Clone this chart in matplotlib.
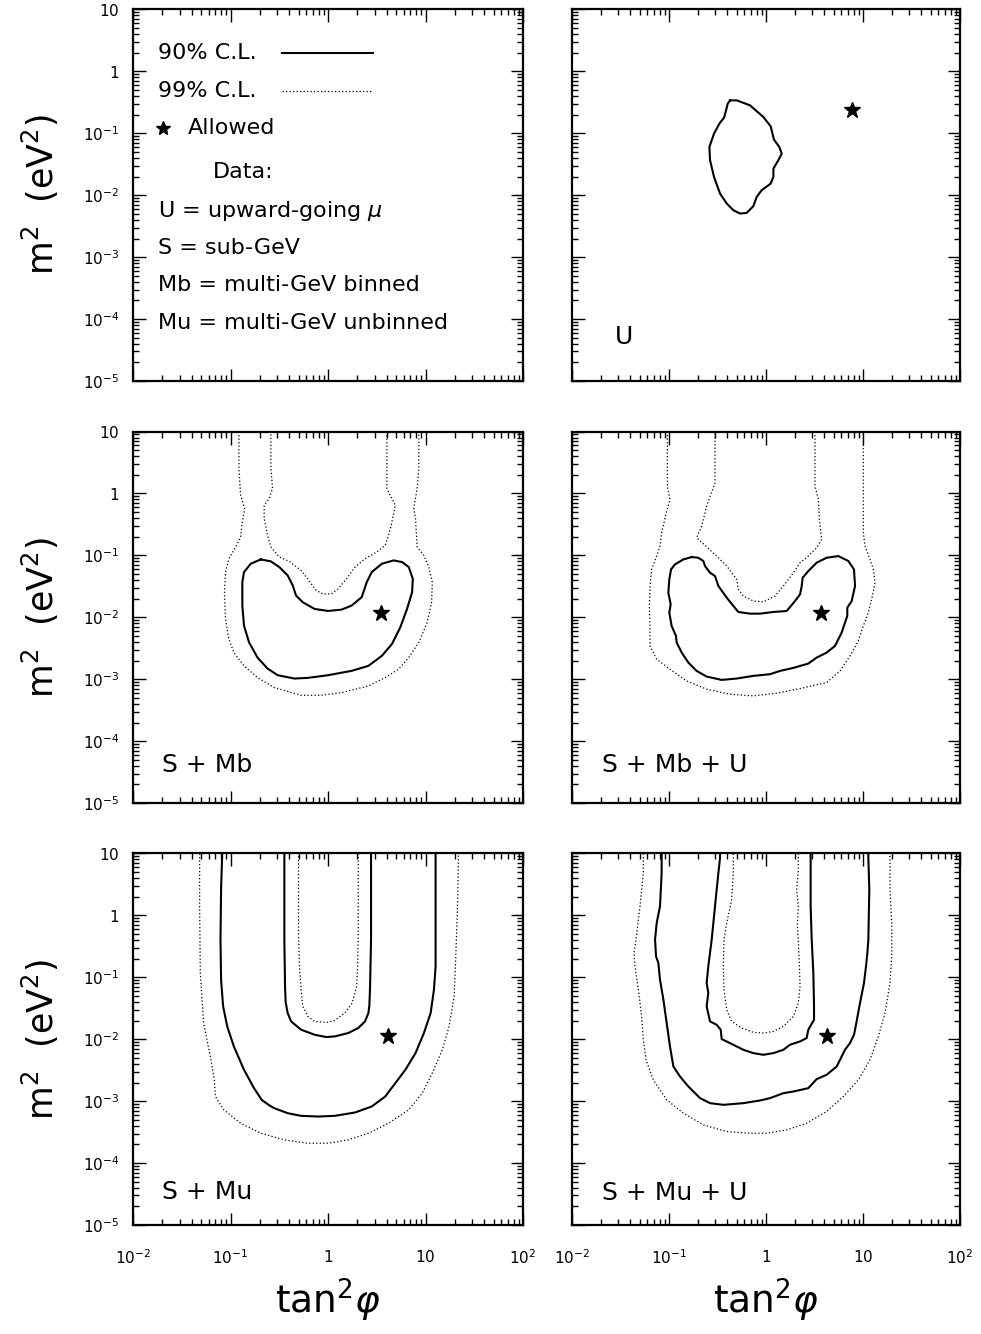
import numpy as np
import matplotlib.pyplot as plt
from matplotlib.ticker import FixedLocator, FixedFormatter, LogLocator, NullFormatter

plt.rcParams['font.family'] = 'DejaVu Sans'
plt.rcParams['mathtext.fontset'] = 'dejavusans'

# contour points, as (log10 tan^2 phi, log10 m^2)

# U
u_90 = [(-0.371, -0.468), (-0.302, -0.468), (-0.165, -0.548), (-0.027, -0.737),
        (0.048, -0.887), (0.082, -1.102), (0.137, -1.220), (0.162, -1.328),
        (0.127, -1.435), (0.076, -1.570), (0.076, -1.704), (0.048, -1.812),
        (-0.045, -1.919), (-0.096, -2.027), (-0.131, -2.177), (-0.199, -2.285),
        (-0.268, -2.296), (-0.337, -2.242), (-0.405, -2.134), (-0.474, -1.973),
        (-0.536, -1.704), (-0.577, -1.435), (-0.584, -1.220), (-0.536, -1.005),
        (-0.481, -0.844), (-0.433, -0.747), (-0.412, -0.629), (-0.395, -0.522)]
u_best = (0.887, -0.629)

# S + Mb
smb_90 = [(-0.690, -1.065), (-0.793, -1.135), (-0.862, -1.270), (-0.879, -1.432),
          (-0.879, -1.811), (-0.862, -2.135), (-0.810, -2.405), (-0.724, -2.649),
          (-0.621, -2.827), (-0.517, -2.935), (-0.345, -2.989), (-0.207, -2.978),
          (0.000, -2.935), (0.241, -2.865), (0.414, -2.784), (0.552, -2.622),
          (0.655, -2.432), (0.741, -2.162), (0.810, -1.865), (0.862, -1.595),
          (0.869, -1.378), (0.828, -1.189), (0.759, -1.108), (0.672, -1.081),
          (0.552, -1.135), (0.448, -1.270), (0.397, -1.432), (0.345, -1.676),
          (0.241, -1.811), (0.138, -1.876), (0.000, -1.897), (-0.138, -1.865),
          (-0.259, -1.757), (-0.328, -1.649), (-0.362, -1.486), (-0.414, -1.324),
          (-0.500, -1.189), (-0.586, -1.097)]
smb_99_outer = [(-0.914, 1.0), (-0.914, 0.405), (-0.897, -0.027), (-0.855, -0.243),
                (-0.879, -0.459), (-0.897, -0.703), (-0.948, -0.865), (-1.017, -1.054),
                (-1.052, -1.270), (-1.062, -1.595), (-1.052, -2.027), (-1.017, -2.351),
                (-0.966, -2.568), (-0.862, -2.784), (-0.724, -2.973), (-0.552, -3.135),
                (-0.276, -3.259), (-0.069, -3.259), (0.138, -3.216), (0.414, -3.108),
                (0.586, -2.973), (0.724, -2.838), (0.828, -2.649), (0.931, -2.405),
                (1.017, -2.081), (1.062, -1.757), (1.069, -1.432), (1.034, -1.189),
                (0.983, -1.000), (0.914, -0.865), (0.897, -0.405), (0.879, -0.243),
                (0.914, 0.081), (0.931, 0.405), (0.931, 1.0)]
smb_99_inner = [(0.603, 1.0), (0.603, 0.081), (0.690, -0.189), (0.655, -0.459),
                (0.621, -0.676), (0.586, -0.838), (0.500, -0.946), (0.379, -1.054),
                (0.276, -1.189), (0.190, -1.378), (0.103, -1.541), (0.034, -1.622),
                (-0.052, -1.622), (-0.121, -1.568), (-0.172, -1.459), (-0.276, -1.243),
                (-0.397, -1.097), (-0.500, -1.027), (-0.586, -0.865), (-0.621, -0.676),
                (-0.655, -0.405), (-0.655, -0.189), (-0.603, -0.081), (-0.569, 0.081),
                (-0.586, 0.405), (-0.586, 1.0)]
smb_best = (0.545, -1.930)

# S + Mb + U
smbu_90 = [(-0.766, -1.027), (-0.852, -1.065), (-0.938, -1.145), (-0.979, -1.226),
           (-0.997, -1.387), (-1.007, -1.602), (-0.983, -1.790), (-0.997, -1.925),
           (-0.973, -2.140), (-0.928, -2.301), (-0.921, -2.409), (-0.869, -2.570),
           (-0.801, -2.731), (-0.715, -2.866), (-0.612, -2.957), (-0.457, -3.011),
           (-0.302, -2.989), (-0.131, -2.946), (0.041, -2.919), (0.144, -2.866),
           (0.282, -2.817), (0.436, -2.747), (0.522, -2.651), (0.625, -2.570),
           (0.711, -2.462), (0.780, -2.247), (0.814, -2.086), (0.838, -1.978),
           (0.838, -1.844), (0.883, -1.737), (0.918, -1.495), (0.907, -1.226),
           (0.849, -1.091), (0.746, -1.011), (0.625, -1.038), (0.522, -1.118),
           (0.436, -1.253), (0.378, -1.360), (0.368, -1.495), (0.351, -1.629),
           (0.299, -1.737), (0.213, -1.898), (0.076, -1.914), (-0.062, -1.941),
           (-0.165, -1.941), (-0.285, -1.914), (-0.337, -1.817), (-0.405, -1.683),
           (-0.491, -1.495), (-0.526, -1.333), (-0.577, -1.280), (-0.629, -1.172),
           (-0.646, -1.091), (-0.698, -1.038)]
smbu_99_outer = [(-1.017, 1.0), (-1.017, 0.118), (-0.990, -0.097), (-1.024, -0.285),
                 (-1.076, -0.634), (-1.093, -0.849), (-1.127, -1.011), (-1.179, -1.226),
                 (-1.196, -1.495), (-1.203, -1.817), (-1.196, -2.140), (-1.196, -2.462),
                 (-1.127, -2.677), (-0.990, -2.839), (-0.818, -3.027), (-0.612, -3.161),
                 (-0.371, -3.242), (-0.131, -3.269), (0.110, -3.226), (0.351, -3.151),
                 (0.625, -3.054), (0.763, -2.866), (0.866, -2.624), (0.952, -2.382),
                 (1.003, -2.140), (1.055, -1.925), (1.089, -1.710), (1.124, -1.441),
                 (1.107, -1.226), (1.072, -1.065), (1.021, -0.849), (1.003, -0.634),
                 (1.003, 0.118), (1.003, 1.0)]
smbu_99_inner = [(0.505, 1.0), (0.505, 0.118), (0.540, -0.097), (0.550, -0.419),
                 (0.574, -0.742), (0.522, -0.876), (0.436, -1.011), (0.351, -1.118),
                 (0.282, -1.280), (0.179, -1.495), (0.093, -1.656), (-0.027, -1.753),
                 (-0.131, -1.737), (-0.234, -1.656), (-0.285, -1.548), (-0.302, -1.387),
                 (-0.405, -1.172), (-0.509, -1.011), (-0.715, -0.715), (-0.663, -0.527),
                 (-0.646, -0.419), (-0.612, -0.204), (-0.526, 0.172), (-0.526, 1.0)]
smbu_best = (0.564, -1.935)

# S + Mu
smu_90_outer = [(-1.086, 1.0), (-1.086, 0.957), (-1.097, 0.418), (-1.103, -0.391),
                (-1.097, -1.038), (-1.076, -1.469), (-1.034, -1.792), (-0.966, -2.116),
                (-0.862, -2.493), (-0.759, -2.790), (-0.680, -2.980), (-0.600, -3.070),
                (-0.552, -3.113), (-0.414, -3.194), (-0.276, -3.237), (-0.103, -3.248),
                (0.069, -3.237), (0.276, -3.183), (0.448, -3.086), (0.586, -2.925),
                (0.690, -2.709), (0.793, -2.493), (0.897, -2.224), (0.983, -1.900),
                (1.052, -1.577), (1.086, -1.199), (1.103, -0.822), (1.103, 0.148),
                (1.103, 1.0)]
smu_90_inner = [(0.441, 1.0), (0.441, 0.687), (0.441, -0.391), (0.431, -1.146),
                (0.424, -1.450), (0.414, -1.577), (0.379, -1.712), (0.310, -1.819),
                (0.207, -1.900), (0.069, -1.954), (-0.017, -1.965), (-0.138, -1.927),
                (-0.276, -1.846), (-0.379, -1.712), (-0.414, -1.577), (-0.435, -1.400),
                (-0.441, -1.146), (-0.448, -0.391), (-0.448, 1.0)]
smu_99_outer = [(-1.317, 1.0), (-1.317, 0.148), (-1.310, -0.930), (-1.276, -1.739),
                (-1.207, -2.278), (-1.166, -2.655), (-1.155, -2.925), (-1.069, -3.140),
                (-0.897, -3.356), (-0.690, -3.518), (-0.448, -3.625), (-0.207, -3.679),
                (0.000, -3.679), (0.207, -3.625), (0.414, -3.518), (0.621, -3.356),
                (0.828, -3.140), (0.966, -2.871), (1.069, -2.547), (1.172, -2.170),
                (1.241, -1.792), (1.293, -1.307), (1.310, -0.660), (1.328, 0.148),
                (1.338, 1.0)]
smu_99_inner = [(0.310, 1.0), (0.310, -0.283), (0.303, -0.822), (0.293, -1.146),
                (0.248, -1.415), (0.172, -1.577), (0.069, -1.695), (-0.017, -1.728),
                (-0.138, -1.712), (-0.207, -1.631), (-0.259, -1.469), (-0.276, -1.199),
                (-0.293, -0.822), (-0.303, -0.283), (-0.303, 1.0)]
smu_best = (0.614, -1.954)

# S + Mu + U
smuu_90_outer = [(-1.076, 1.0), (-1.076, 0.687), (-1.093, 0.148), (-1.127, -0.121),
                 (-1.144, -0.391), (-1.134, -0.660), (-1.110, -0.768), (-1.093, -1.038),
                 (-1.058, -1.361), (-1.024, -1.739), (-0.990, -2.116), (-0.955, -2.439),
                 (-0.887, -2.601), (-0.801, -2.763), (-0.680, -2.951), (-0.577, -3.032),
                 (-0.440, -3.059), (-0.234, -3.032), (-0.062, -2.989), (0.041, -2.951),
                 (0.179, -2.871), (0.282, -2.844), (0.436, -2.790), (0.522, -2.644),
                 (0.625, -2.574), (0.729, -2.439), (0.763, -2.332), (0.814, -2.170),
                 (0.866, -2.062), (0.907, -1.927), (0.918, -1.846), (0.969, -1.415),
                 (1.010, -1.092), (1.031, -0.822), (1.045, -0.606), (1.055, -0.391),
                 (1.065, 0.418), (1.055, 0.930), (1.055, 1.0)]
smuu_90_inner = [(0.460, 1.0), (0.460, 0.148), (0.471, -0.391), (0.488, -0.930),
                 (0.495, -1.469), (0.495, -1.685), (0.436, -1.846), (0.419, -1.981),
                 (0.351, -2.035), (0.247, -2.089), (0.179, -2.170), (0.076, -2.224),
                 (-0.027, -2.251), (-0.131, -2.224), (-0.234, -2.170), (-0.337, -2.089),
                 (-0.457, -1.997), (-0.467, -1.846), (-0.509, -1.766), (-0.577, -1.712),
                 (-0.612, -1.469), (-0.595, -1.253), (-0.612, -1.092), (-0.595, -0.822),
                 (-0.560, -0.391), (-0.526, 0.148), (-0.491, 0.687), (-0.474, 0.930),
                 (-0.474, 1.0)]
smuu_99_outer = [(-1.265, 1.0), (-1.265, 0.687), (-1.299, 0.148), (-1.340, -0.391),
                 (-1.361, -0.606), (-1.351, -0.822), (-1.316, -1.199), (-1.282, -1.631),
                 (-1.265, -2.008), (-1.237, -2.332), (-1.162, -2.655), (-1.024, -2.978),
                 (-0.852, -3.194), (-0.646, -3.383), (-0.405, -3.491), (-0.165, -3.518),
                 (0.007, -3.518), (0.213, -3.464), (0.419, -3.356), (0.625, -3.167),
                 (0.797, -2.925), (0.952, -2.655), (1.072, -2.332), (1.158, -1.954),
                 (1.227, -1.577), (1.278, -1.092), (1.296, -0.660), (1.296, -0.121),
                 (1.278, 0.418), (1.278, 1.0)]
smuu_99_inner = [(0.333, 1.0), (0.333, 0.741), (0.316, 0.418), (0.333, 0.148),
                 (0.323, -0.175), (0.333, -0.391), (0.344, -0.822), (0.351, -1.146),
                 (0.333, -1.415), (0.282, -1.631), (0.179, -1.792), (0.076, -1.873),
                 (-0.027, -1.900), (-0.131, -1.889), (-0.251, -1.819), (-0.354, -1.712),
                 (-0.405, -1.523), (-0.433, -1.199), (-0.440, -0.822), (-0.433, -0.391),
                 (-0.405, -0.121), (-0.354, 0.256), (-0.337, 0.687), (-0.337, 1.0)]
smuu_best = (0.625, -1.954)

xtick_vals = [1e-2, 1e-1, 1, 10, 1e2]
xtick_labels = [r'$10^{-2}$', r'$10^{-1}$', r'$1$', r'$10$', r'$10^{2}$']
ytick_vals = [1e-5, 1e-4, 1e-3, 1e-2, 1e-1, 1, 10]
ytick_labels = [r'$10^{-5}$', r'$10^{-4}$', r'$10^{-3}$', r'$10^{-2}$',
                r'$10^{-1}$', r'$1$', r'$10$']

legend_lines = ['90% C.L.', '99% C.L.']
legend_notes = [r'U = upward-going $\mu$', 'S = sub-GeV',
                'Mb = multi-GeV binned', 'Mu = multi-GeV unbinned']

SOLID = dict(color='black', lw=1.5, ls='-')
DOTTED = dict(color='black', lw=0.9, ls=(0, (1, 1.8)))


def draw_curve(ax, pts, style, closed=False):
    arr = np.array(pts)
    if closed:
        arr = np.vstack([arr, arr[:1]])
    ax.plot(10 ** arr[:, 0], 10 ** arr[:, 1], **style)


def star(ax, best, ms=12):
    ax.plot(10 ** best[0], 10 ** best[1], marker='*', color='black', ms=ms, mec='black')


fig = plt.figure(figsize=(9.81, 13.34), dpi=100)

left_x, right_x = 0.1356, 0.5831
widths = [0.3976, 0.3955]
row_bottoms = [0.7144, 0.3980, 0.0817]
row_h = 0.2785

axes = []
for r in range(3):
    for c in range(2):
        ax = fig.add_axes([[left_x, right_x][c], row_bottoms[r], widths[c], row_h])
        ax.set_xscale('log')
        ax.set_yscale('log')
        ax.set_xlim(1e-2, 1e2)
        ax.set_ylim(1e-5, 10)
        ax.xaxis.set_major_locator(FixedLocator(xtick_vals))
        ax.yaxis.set_major_locator(FixedLocator(ytick_vals))
        ax.xaxis.set_minor_locator(LogLocator(base=10, subs=np.arange(2, 10)))
        ax.yaxis.set_minor_locator(LogLocator(base=10, subs=np.arange(2, 10)))
        ax.xaxis.set_minor_formatter(NullFormatter())
        ax.yaxis.set_minor_formatter(NullFormatter())
        if r == 2:
            ax.xaxis.set_major_formatter(FixedFormatter(xtick_labels))
        else:
            ax.xaxis.set_major_formatter(NullFormatter())
        if c == 0:
            ax.yaxis.set_major_formatter(FixedFormatter(ytick_labels))
        else:
            ax.yaxis.set_major_formatter(NullFormatter())
        ax.tick_params(which='both', direction='in', top=True, right=True, width=1.0)
        ax.tick_params(which='major', length=9, labelsize=11)
        ax.tick_params(axis='x', which='major', pad=17)
        ax.tick_params(axis='y', which='major', pad=10)
        ax.tick_params(which='minor', length=4.5)
        for sp in ax.spines.values():
            sp.set_linewidth(1.6)
        axes.append(ax)

# top-left: legend panel
ax = axes[0]
tr = ax.transAxes
ax.text(0.064, 0.884, legend_lines[0], transform=tr, fontsize=16, va='center')
ax.plot([0.382, 0.615], [0.884, 0.884], transform=tr, **SOLID)
ax.text(0.064, 0.780, legend_lines[1], transform=tr, fontsize=16, va='center')
ax.plot([0.382, 0.615], [0.780, 0.780], transform=tr, **DOTTED)
ax.plot([0.078], [0.680], transform=tr, marker='*', color='black', ms=10)
ax.text(0.141, 0.680, 'Allowed', transform=tr, fontsize=16, va='center')
ax.text(0.205, 0.562, 'Data:', transform=tr, fontsize=16, va='center')
for note, yy in zip(legend_notes, [0.457, 0.358, 0.258, 0.156]):
    ax.text(0.064, yy, note, transform=tr, fontsize=16, va='center')

# top-right: U
ax = axes[1]
draw_curve(ax, u_90, SOLID, closed=True)
star(ax, u_best)
ax.text(0.111, 0.118, 'U', transform=ax.transAxes, fontsize=18, va='center')

# middle-left: S + Mb
ax = axes[2]
draw_curve(ax, smb_90, SOLID, closed=True)
draw_curve(ax, smb_99_outer, DOTTED)
draw_curve(ax, smb_99_inner, DOTTED)
star(ax, smb_best)
ax.text(0.074, 0.102, 'S + Mb', transform=ax.transAxes, fontsize=18, va='center')

# middle-right: S + Mb + U
ax = axes[3]
draw_curve(ax, smbu_90, SOLID, closed=True)
draw_curve(ax, smbu_99_outer, DOTTED)
draw_curve(ax, smbu_99_inner, DOTTED)
star(ax, smbu_best)
ax.text(0.077, 0.102, 'S + Mb + U', transform=ax.transAxes, fontsize=18, va='center')

# bottom-left: S + Mu
ax = axes[4]
draw_curve(ax, smu_90_outer, SOLID)
draw_curve(ax, smu_90_inner, SOLID)
draw_curve(ax, smu_99_outer, DOTTED)
draw_curve(ax, smu_99_inner, DOTTED)
star(ax, smu_best)
ax.text(0.074, 0.089, 'S + Mu', transform=ax.transAxes, fontsize=18, va='center')

# bottom-right: S + Mu + U
ax = axes[5]
draw_curve(ax, smuu_90_outer, SOLID)
draw_curve(ax, smuu_90_inner, SOLID)
draw_curve(ax, smuu_99_outer, DOTTED)
draw_curve(ax, smuu_99_inner, DOTTED)
star(ax, smuu_best)
ax.text(0.077, 0.086, 'S + Mu + U', transform=ax.transAxes, fontsize=18, va='center')

# axis titles
for yc in [0.8538, 0.5371, 0.2208]:
    fig.text(0.041, yc, r'm$^2$  (eV$^2$)', rotation=90, fontsize=25,
             ha='center', va='center')
for xc in [0.3344, 0.7808]:
    fig.text(xc, 0.025, r'tan$^2\varphi$', fontsize=27, ha='center', va='center')

fig.savefig('out.png', dpi=100)
